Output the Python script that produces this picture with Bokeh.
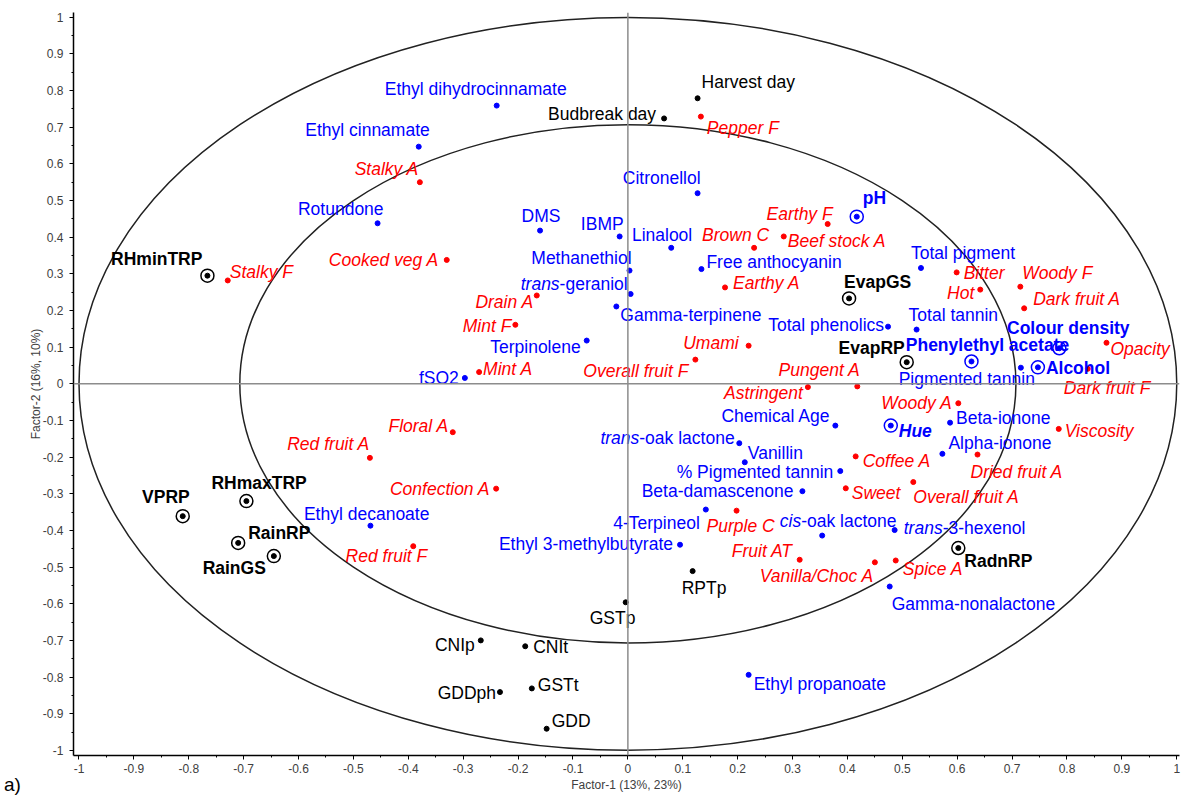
from bokeh.plotting import figure
from bokeh.layouts import column
from bokeh.models import ColumnDataSource, Span, SingleIntervalTicker, CustomJSTickFormatter, Div
from bokeh.embed import file_html
from bokeh.resources import INLINE
from bokeh.core.properties import value

# ---------------- data (loadings) ----------------
site_names = ["Harvest day", "Budbreak day", "GSTp", "RPTp", "CNIp", "CNIt", "GDDph", "GSTt", "GDD"]
site_x = [0.127, 0.066, -0.004, 0.118, -0.268, -0.187, -0.233, -0.175, -0.148]
site_y = [0.779, 0.724, -0.596, -0.511, -0.700, -0.716, -0.841, -0.831, -0.941]

climate_names = ["RHminTRP", "VPRP", "RHmaxTRP", "RainRP", "RainGS", "EvapGS", "EvapRP", "RadnRP"]
climate_x = [-0.766, -0.811, -0.695, -0.710, -0.645, 0.403, 0.508, 0.602]
climate_y = [0.295, -0.361, -0.320, -0.434, -0.470, 0.233, 0.059, -0.448]

chem_names = ["Ethyl dihydrocinnamate", "Ethyl cinnamate", "Rotundone", "DMS", "IBMP", "Citronellol",
              "Linalool", "Methanethiol", "trans-geraniol", "Gamma-terpinene", "Free anthocyanin",
              "Terpinolene", "fSO2", "Total pigment", "Total phenolics", "Total tannin",
              "Pigmented tannin", "Chemical Age", "trans-oak lactone", "Vanillin", "% Pigmented tannin",
              "Beta-damascenone", "4-Terpineol", "Ethyl 3-methylbutyrate", "cis-oak lactone",
              "trans-3-hexenol", "Gamma-nonalactone", "Ethyl propanoate", "Ethyl decanoate",
              "Beta-ionone", "Alpha-ionone"]
chem_x = [-0.239, -0.381, -0.456, -0.160, -0.015, 0.127, 0.079, 0.003, 0.005, -0.021, 0.134,
          -0.075, -0.297, 0.534, 0.474, 0.526, 0.716, 0.378, 0.203, 0.213, 0.387,
          0.318, 0.142, 0.095, 0.354, 0.486, 0.477, 0.220, -0.469, 0.587, 0.573]
chem_y = [0.759, 0.647, 0.438, 0.418, 0.402, 0.520, 0.371, 0.309, 0.245, 0.211, 0.313,
          0.118, 0.016, 0.316, 0.156, 0.148, 0.044, -0.114, -0.162, -0.214, -0.238,
          -0.293, -0.343, -0.439, -0.414, -0.399, -0.553, -0.794, -0.387, -0.106, -0.191]

wine_names = ["pH", "Phenylethyl acetate", "Colour density", "Alcohol", "Hue"]
wine_x = [0.417, 0.626, 0.786, 0.747, 0.479]
wine_y = [0.456, 0.061, 0.097, 0.045, -0.114]

sens_names = ["Pepper F", "Stalky A", "Stalky F", "Cooked veg A", "Earthy F", "Brown C", "Beef stock A",
              "Earthy A", "Umami", "Overall fruit F", "Pungent A", "Astringent", "Woody F",
              "Dark fruit A", "Bitter", "Hot", "Opacity", "Dark fruit F", "Woody A", "Viscosity",
              "Coffee A", "Dried fruit A", "Sweet", "Overall fruit A", "Purple C", "Fruit AT",
              "Vanilla/Choc A", "Spice A", "Drain A", "Mint F", "Mint A", "Floral A", "Red fruit A",
              "Confection A", "Red fruit F"]
sens_x = [0.133, -0.379, -0.729, -0.330, 0.364, 0.230, 0.284, 0.177, 0.220, 0.123, 0.418, 0.328,
          0.715, 0.722, 0.599, 0.642, 0.872, 0.838, 0.602, 0.785, 0.415, 0.637, 0.397, 0.520,
          0.198, 0.313, 0.450, 0.488, -0.166, -0.205, -0.271, -0.319, -0.470, -0.240, -0.391]
sens_y = [0.729, 0.550, 0.282, 0.338, 0.436, 0.371, 0.402, 0.263, 0.104, 0.066, -0.007, -0.009,
          0.265, 0.206, 0.304, 0.257, 0.112, 0.041, -0.053, -0.123, -0.198, -0.193, -0.285, -0.268,
          -0.346, -0.480, -0.487, -0.482, 0.241, 0.161, 0.032, -0.132, -0.202, -0.286, -0.443]

circle_radii = [1.0, 0.707]
x_title = "Factor-1 (13%, 23%)"
y_title = "Factor-2 (16%, 10%)"
panel_tag = "a)"

# ---------------- label placement (screen px: anchor, dx, dy) ----------------
label_pos = {
    "Harvest day": ("left", 4, -16), "Budbreak day": ("right", -8, -4), "GSTp": ("left", -36, 16),
    "RPTp": ("left", -11, 17), "CNIp": ("right", -6, 5), "CNIt": ("left", 8, 1),
    "GDDph": ("right", -4, 1), "GSTt": ("left", 6, -3), "GDD": ("left", 5, -8),
    "RHminTRP": ("right", -5, -17), "VPRP": ("right", 7, -19), "RHmaxTRP": ("left", -35, -18),
    "RainRP": ("left", 10, -10), "RainGS": ("right", -8, 12), "EvapGS": ("left", -5, -16),
    "EvapRP": ("right", -2, -14), "RadnRP": ("left", 6, 13),
    "Ethyl dihydrocinnamate": ("right", 70, -17), "Ethyl cinnamate": ("right", 11, -17),
    "Rotundone": ("right", 6, -14), "DMS": ("center", 1, -15), "IBMP": ("right", 4, -12),
    "Citronellol": ("right", 3, -15), "Linalool": ("right", 21, -13), "Methanethiol": ("right", 2, -13),
    "trans-geraniol": ("split", -71, -10, 5), "Gamma-terpinene": ("left", 4, 9),
    "Free anthocyanin": ("left", 5, -7), "Terpinolene": ("right", -6, 6), "fSO2": ("right", -6, 0),
    "Total pigment": ("left", -10, -15), "Total phenolics": ("right", -4, -2),
    "Total tannin": ("left", -8, -15), "Pigmented tannin": ("right", 14, 11),
    "Chemical Age": ("right", -5, -10), "trans-oak lactone": ("split", -100, -5, 5),
    "Vanillin": ("left", 3, -9), "% Pigmented tannin": ("right", -7, 1),
    "Beta-damascenone": ("right", -9, 0), "4-Terpineol": ("right", -6, 13),
    "Ethyl 3-methylbutyrate": ("right", -7, -1), "cis-oak lactone": ("split", -21, -15, 3),
    "trans-3-hexenol": ("split", 48, -2, 5), "Gamma-nonalactone": ("left", 2, 17),
    "Ethyl propanoate": ("left", 5, 9), "Ethyl decanoate": ("right", 59, -12),
    "Beta-ionone": ("left", 6, -5), "Alpha-ionone": ("left", 6, -11),
    "pH": ("left", 6, -19), "Phenylethyl acetate": ("center", 16, -16),
    "Colour density": ("center", 9, -20), "Alcohol": ("left", 8, 1), "Hue": ("left", 8, 5),
    "Pepper F": ("left", 6, 11), "Stalky A": ("right", -1, -13), "Stalky F": ("left", 2, -8),
    "Cooked veg A": ("right", -8, 0), "Earthy F": ("right", 5, -10), "Brown C": ("right", 15, -13),
    "Beef stock A": ("left", 4, 5), "Earthy A": ("left", 8, -4), "Umami": ("right", -10, -3),
    "Overall fruit F": ("right", -7, 11), "Pungent A": ("right", 3, -16), "Astringent": ("right", -5, 6),
    "Woody F": ("left", 2, -14), "Dark fruit A": ("left", 9, -9), "Bitter": ("left", 7, 1),
    "Hot": ("right", -6, 3), "Opacity": ("left", 4, 6), "Dark fruit F": ("left", -24, 19),
    "Woody A": ("right", -6, 0), "Viscosity": ("left", 6, 2), "Coffee A": ("left", 7, 5),
    "Dried fruit A": ("left", -7, 17), "Sweet": ("left", 6, 5), "Overall fruit A": ("left", 0, 15),
    "Purple C": ("left", -30, 15), "Fruit AT": ("right", -7, -9), "Vanilla/Choc A": ("right", -1, 14),
    "Spice A": ("left", 7, 9), "Drain A": ("right", -3, 7), "Mint F": ("right", -4, 1),
    "Mint A": ("left", 4, -3), "Floral A": ("right", -4, -6), "Red fruit A": ("right", 0, -14),
    "Confection A": ("right", -6, 0), "Red fruit F": ("right", 14, 10),
}

FONT = "Liberation Sans"
FS = "17.5px"
BLACK, BLUE, RED = "#000000", "#0000FF", "#FF0000"

p = figure(width=1182, height=796, x_range=(-1.01, 1.005), y_range=(-1.014, 1.013),
           output_backend="svg", toolbar_location=None,
           min_border_left=73, min_border_right=3, min_border_top=12, min_border_bottom=41)
p.grid.visible = False
p.outline_line_color = None

for ax in (p.xaxis[0], p.yaxis[0]):
    ax.ticker = SingleIntervalTicker(interval=0.1, num_minor_ticks=2)
    ax.formatter = CustomJSTickFormatter(code="return String(+tick.toFixed(1));")
    ax.axis_line_color = "black"
    ax.axis_line_width = 1.5
    ax.major_tick_line_color = "black"
    ax.major_tick_out = 4
    ax.major_tick_in = 0
    ax.minor_tick_line_color = "black"
    ax.minor_tick_out = 2
    ax.minor_tick_in = 0
    ax.major_label_text_font = FONT
    ax.major_label_text_font_size = "12px"
    ax.major_label_text_color = "#404040"
    ax.axis_label_text_font = FONT
    ax.axis_label_text_font_size = "12px"
    ax.axis_label_text_font_style = "normal"
    ax.axis_label_text_color = "#404040"
p.xaxis[0].major_label_standoff = 4
p.xaxis[0].axis_label_standoff = 2
p.yaxis[0].major_label_standoff = 6
p.yaxis[0].axis_label_standoff = -3
p.xaxis[0].axis_label = x_title
p.yaxis[0].axis_label = y_title

# correlation circles
p.ellipse(x=[0.0] * len(circle_radii), y=[0.0] * len(circle_radii),
          width=[2 * r for r in circle_radii], height=[2 * r for r in circle_radii],
          fill_color=None, line_color="#222222", line_width=1.5)
p.add_layout(Span(location=0, dimension="height", line_color="#8c8c8c", line_width=1.5))
p.add_layout(Span(location=0, dimension="width", line_color="#8c8c8c", line_width=1.5))


def dots(xs, ys, color, ringed=False):
    if ringed:
        p.scatter(xs, ys, size=13, marker="circle", fill_color=None, line_color=color, line_width=1.5)
    p.scatter(xs, ys, size=5, marker="circle", fill_color=color, line_color=color)


def labels(names, xs, ys, color, style="normal"):
    groups = {}
    for n, x, y in zip(names, xs, ys):
        pos = label_pos[n]
        if pos[0] == "split":
            k = pos[3]
            groups.setdefault(("right", "italic"), []).append((x, y, n[:k], pos[1], pos[2]))
            groups.setdefault(("left", style), []).append((x, y, n[k:], pos[1], pos[2]))
        else:
            st = "bold italic" if n == "Hue" else style
            groups.setdefault((pos[0], st), []).append((x, y, n, pos[1], pos[2]))
    for (al, st), rows in groups.items():
        src = ColumnDataSource(dict(x=[r[0] for r in rows], y=[r[1] for r in rows],
                                    t=[r[2] for r in rows], dx=[r[3] for r in rows],
                                    dy=[r[4] for r in rows]))
        p.text(x="x", y="y", text="t", x_offset="dx", y_offset="dy", source=src,
               text_align=al, text_baseline="middle", text_font=value(FONT),
               text_font_size=FS, text_font_style=st, text_color=color)


dots(site_x, site_y, BLACK)
dots(climate_x, climate_y, BLACK, ringed=True)
dots(chem_x, chem_y, BLUE)
dots(wine_x, wine_y, BLUE, ringed=True)
dots(sens_x, sens_y, RED)

labels(site_names, site_x, site_y, BLACK)
labels(climate_names, climate_x, climate_y, BLACK, "bold")
labels(chem_names, chem_x, chem_y, BLUE)
labels(wine_names, wine_x, wine_y, BLUE, "bold")
labels(sens_names, sens_x, sens_y, RED, "italic")

tag = Div(text=panel_tag, width=40, height=22, margin=(-22, 0, 0, 4),
          styles={"font-family": FONT, "font-size": "19px", "line-height": "22px", "color": "black"})

page = column(p, tag, spacing=0)
open("out.html", "w").write(file_html(page, INLINE))
